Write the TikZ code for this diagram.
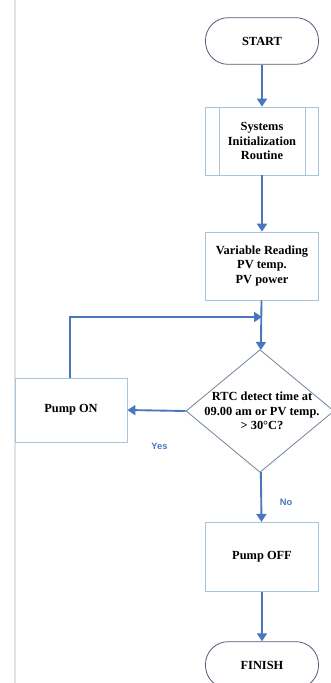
\documentclass[tikz,border=0pt]{standalone}
\usepackage{fontspec}
\setmainfont{Liberation Serif}
\setsansfont{Liberation Sans}
\usepackage{tikz}
\usetikzlibrary{arrows.meta,positioning,calc,shapes.geometric}
\definecolor{Flow}{HTML}{4A76BE}
\definecolor{BoxLine}{HTML}{A8C6DA}
\definecolor{TermLine}{HTML}{4F5D72}
\definecolor{DecLine}{HTML}{72849C}
\definecolor{PageLine}{HTML}{E2E2E2}

\begin{document}
\begin{tikzpicture}[
  x=0.75pt,y=-0.75pt,
  every node/.style={font=\fontsize{9.3}{11}\selectfont\bfseries},
  term/.style={rounded corners=17pt,draw=TermLine,fill=white,line width=0.6pt,minimum width=84.75pt,minimum height=35pt,align=center},
  proc/.style={draw=BoxLine,fill=white,line width=0.6pt,minimum width=84.75pt,minimum height=51pt,align=center},
  dec/.style={diamond,draw=DecLine,fill=white,line width=0.6pt,minimum width=111pt,minimum height=92pt,inner sep=0pt,aspect=1.2},
  arr/.style={-{Triangle[width=7.5pt,length=6pt]},line width=1.4pt,Flow},
  flag/.style={font=\fontsize{7}{8}\sffamily\bfseries,text=Flow}
]
\useasboundingbox (0,0) rectangle (330,683);
% faint page margin
\draw[PageLine,line width=0.8pt] (15,0) -- (15,683);

\node[term] (start) at (262,41) {START};
\node[proc] (init) at (262,141) {Systems\\Initialization\\Routine};
\draw[BoxLine,line width=0.6pt] ([xshift=10.5pt]init.north west) -- ([xshift=10.5pt]init.south west)
  ([xshift=-10.5pt]init.north east) -- ([xshift=-10.5pt]init.south east);
\node[proc] (read) at (262,266) {Variable Reading\\PV temp.\\PV power};
\node[dec] (check) at (260,411) {};
\node[align=center] (checktxt) at (262,411) {RTC detect time at\\09.00 am or PV temp.\\> 30°C?};
\node[proc,minimum width=84pt,minimum height=48pt] (pumpon) at (71,410) {Pump ON};
\node[proc,minimum height=52pt] (pumpoff) at (262,557) {Pump OFF};
\node[term] (finish) at (262,665) {FINISH};
\coordinate (merge) at (262,317);

\draw[arr] (start) -- (init);
\draw[arr] (init) -- (read);
\draw[arr] (read) -- (check);
\draw[arr] (pumpon.north -| 70,0) |- (merge);
\draw[arr] (check.west) -- (pumpon.east) node[flag,pos=0.45,below=20pt] (yes) {Yes};
\draw[arr] (check) -- (pumpoff) node[flag,pos=0.6,right=10pt] (no) {No};
\draw[arr] (pumpoff) -- (finish);
\end{tikzpicture}
\end{document}
